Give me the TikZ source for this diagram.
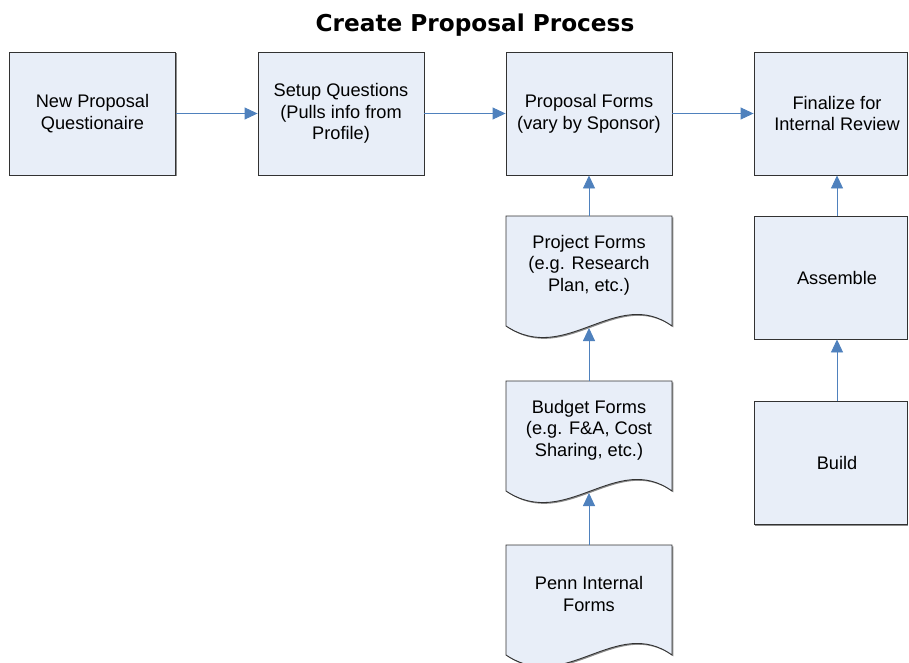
\documentclass[tikz,border=0pt]{standalone}
\usepackage{fontspec}
\setmainfont{Liberation Sans}
\newfontfamily\titlefont{DejaVu Sans}
\usetikzlibrary{arrows.meta,shadows,calc}
\definecolor{boxfill}{RGB}{232,238,248}
\definecolor{linkblue}{RGB}{79,129,189}
\definecolor{edgegray}{RGB}{50,50,50}
\newcommand\docbody[2]{%
  \path[docshape] (#1,#2) -- ({#1+166},#2) -- ({#1+166},{#2+110})
    .. controls ({#1+110},{#2+70}) and ({#1+60},{#2+150}) .. (#1,{#2+110}) -- cycle;}
\begin{document}
\begin{tikzpicture}[x=1pt,y=-1pt,
  bodyfont/.style={font=\fontsize{18.2}{21.7}\selectfont},
  procbox/.style={draw=edgegray, line width=0.9pt, fill=boxfill,
    minimum width=166pt, minimum height=123pt, inner sep=0pt, align=center, bodyfont,
    drop shadow={shadow xshift=1.3pt, shadow yshift=-1.3pt, fill=black!45, opacity=1}},
  edgebox/.style={procbox, minimum width=153pt},
  boxtext/.style={inner sep=0pt, align=center, bodyfont},
  doctext/.style={inner sep=0pt, minimum width=166pt, minimum height=98pt,
    anchor=north, align=center, bodyfont},
  docshape/.style={draw=edgegray, line width=0.9pt, fill=boxfill,
    drop shadow={shadow xshift=1.3pt, shadow yshift=-1.3pt, fill=black!45, opacity=1}},
  link/.style={draw=linkblue, line width=0.9pt, -{Triangle[length=13pt,width=12pt]}}
]
\useasboundingbox (0,0) rectangle (909,663);

\node[anchor=base, font=\titlefont\bfseries\fontsize{23.2}{27}\selectfont] (title) at (475,32) {Create Proposal Process};

\node[procbox] (n1) at (92.5,113.5) {New Proposal\\Questionaire};
\node[procbox] (n2) at (341,113.5) {Setup Questions\\(Pulls info from\\Profile)};
\node[procbox] (n3) at (589,113.5) {Proposal Forms\\(vary by Sponsor)};

\node[edgebox] (n4) at (830.5,113.5) {};
\node[boxtext] (n4t) at (837,113.5) {Finalize for\\Internal Review};
\node[edgebox] (asm) at (830.5,277.5) {};
\node[boxtext] (asmt) at (837,277.5) {Assemble};
\node[edgebox] (build) at (830.5,463) {};
\node[boxtext] (buildt) at (837,463) {Build};

\docbody{506}{216}
\node[doctext] (proj) at (589,216) {Project Forms\\(e.g. Research\\Plan, etc.)};
\coordinate (projbot) at (589,328);

\docbody{506}{381}
\node[doctext] (budget) at (589,381) {Budget Forms\\(e.g. F\&A, Cost\\Sharing, etc.)};
\coordinate (budgetbot) at (589,493);

\docbody{506}{545}
\node[doctext] (penn) at (589,545) {Penn Internal\\Forms};

\draw[link] (n1.east) -- (n2.west);
\draw[link] (n2.east) -- (n3.west);
\draw[link] (n3.east) -- (n3.east -| n4.west);
\draw[link] (proj.north) -- (n3.south);
\draw[link] (budget.north) -- (projbot);
\draw[link] (penn.north) -- (budgetbot);
\draw[link] (asm.north -| asmt) -- (n4.south -| n4t);
\draw[link] (build.north -| buildt) -- (asm.south -| asmt);
\end{tikzpicture}
\end{document}
